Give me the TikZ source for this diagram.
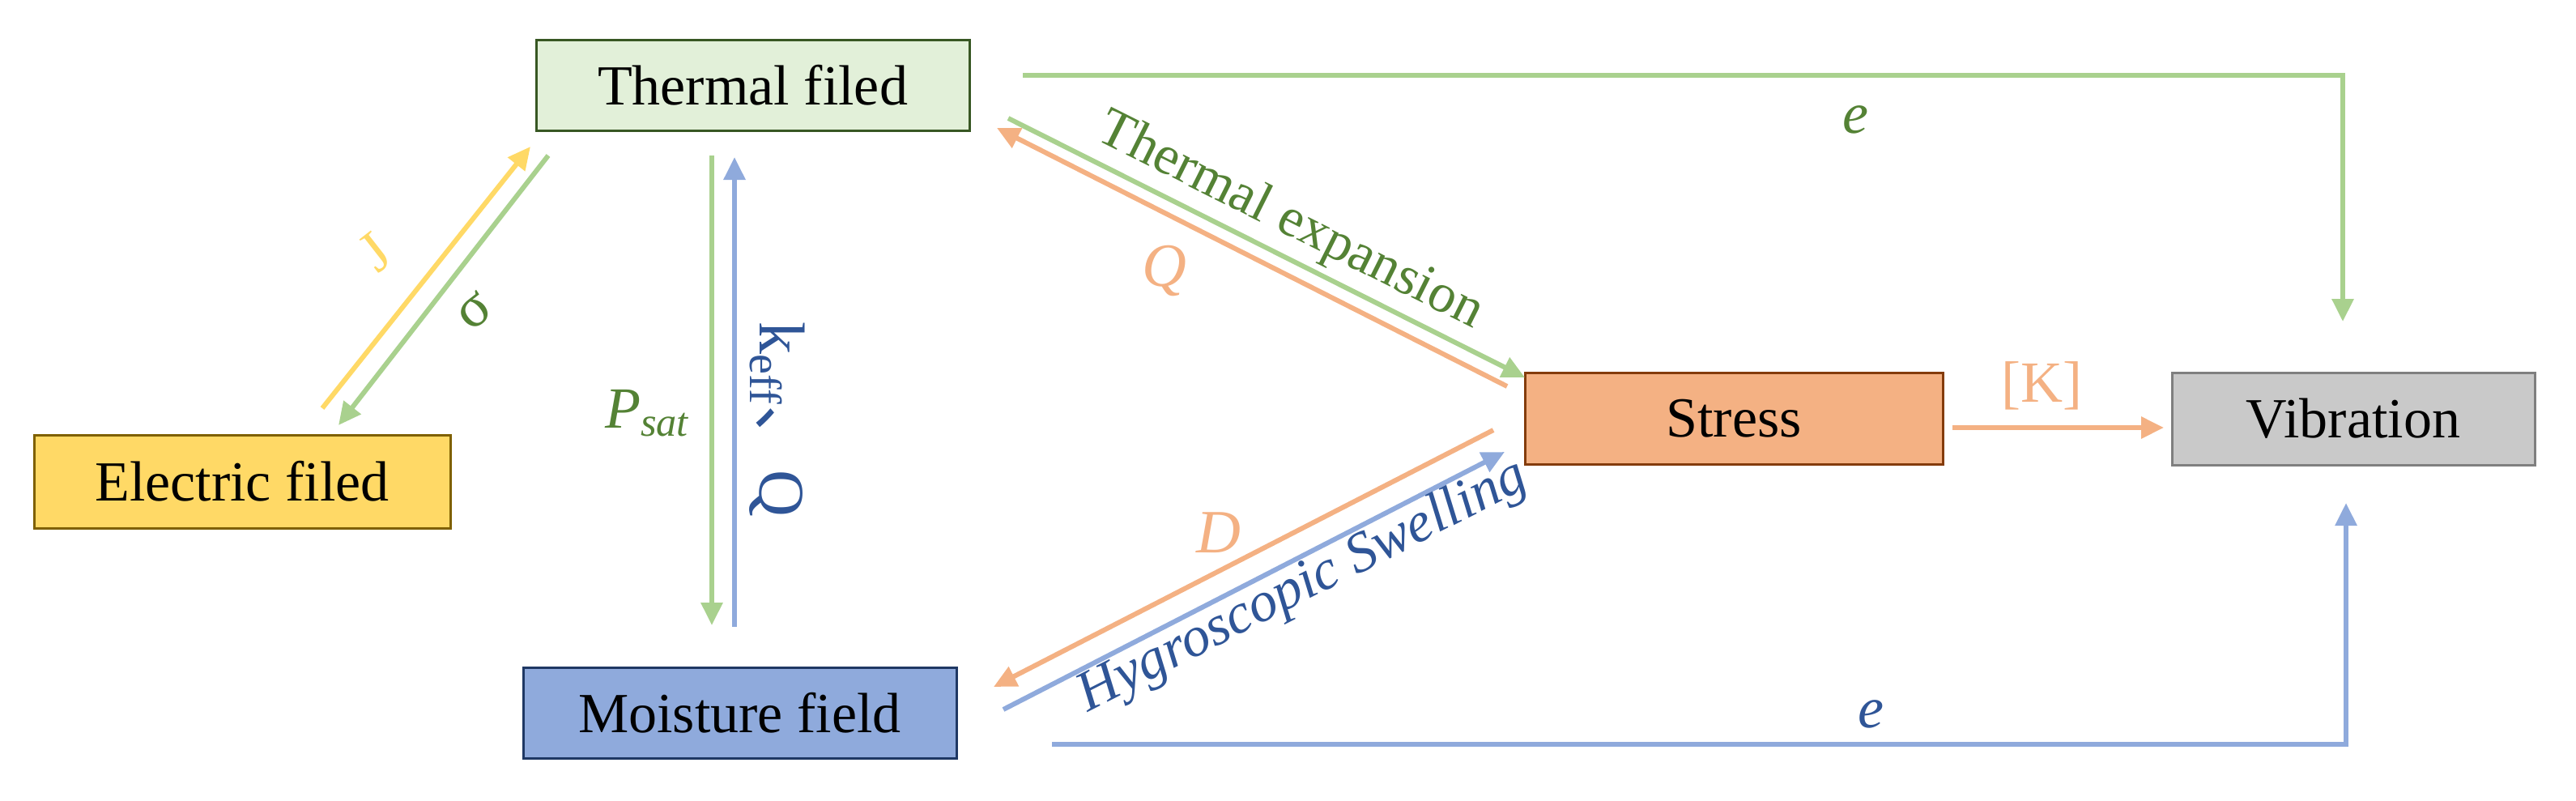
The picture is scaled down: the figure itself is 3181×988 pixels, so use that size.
\documentclass[tikz,border=0pt]{standalone}
\usepackage{fontspec}
\setmainfont{Liberation Serif}
\newfontfamily\cjk{Noto Sans CJK SC}
\usetikzlibrary{arrows.meta}

\definecolor{thermalFill}{RGB}{226,240,217}
\definecolor{thermalLine}{RGB}{56,87,35}
\definecolor{electricFill}{RGB}{255,217,102}
\definecolor{electricLine}{RGB}{127,96,0}
\definecolor{moistureFill}{RGB}{143,170,220}
\definecolor{moistureLine}{RGB}{31,56,100}
\definecolor{stressFill}{RGB}{244,177,131}
\definecolor{stressLine}{RGB}{132,60,12}
\definecolor{vibFill}{RGB}{201,201,201}
\definecolor{vibLine}{RGB}{127,127,127}
\definecolor{greenArrow}{RGB}{169,209,142}
\definecolor{greenText}{RGB}{84,130,53}
\definecolor{blueArrow}{RGB}{143,170,220}
\definecolor{blueText}{RGB}{47,85,151}
\definecolor{orangeArrow}{RGB}{244,177,131}
\definecolor{yellowArrow}{RGB}{255,217,102}

\tikzset{every picture/.style={line width=0.75pt}}
\tikzset{
	field/.style={draw, line width=0.75pt, inner sep=0pt, font=\fontsize{17.5}{21}\selectfont},
	flow/.style={line width=1.5pt, -{Triangle[length=7pt,width=6.5pt]}},
	lbl/.style={inner sep=0pt, font=\fontsize{18}{21}\selectfont}}

\begin{document}
\begin{tikzpicture}[x=0.25pt,y=0.25pt,yscale=-1,xscale=1]
	\useasboundingbox (0,0) rectangle (3181,988);

	%Shape: Rectangle [id:thermal]
	\node (thermal) [field, fill=thermalFill, draw=thermalLine, minimum width=133.75pt, minimum height=28pt] at (929.5,105) {Thermal filed};
	%Shape: Rectangle [id:electric]
	\node (electric) [field, fill=electricFill, draw=electricLine, minimum width=128.5pt, minimum height=28.75pt] at (299,594.5) {Electric filed};
	%Shape: Rectangle [id:moisture]
	\node (moisture) [field, fill=moistureFill, draw=moistureLine, minimum width=133.75pt, minimum height=28pt] at (913.5,880) {Moisture field};
	%Shape: Rectangle [id:stress]
	\node (stress) [field, fill=stressFill, draw=stressLine, minimum width=129pt, minimum height=28.25pt] at (2141,516.5) {Stress};
	%Shape: Rectangle [id:vibration]
	\node (vibration) [field, fill=vibFill, draw=vibLine, minimum width=112pt, minimum height=28.5pt] at (2906,517) {Vibration};

	%Arrow ends
	\coordinate (jFrom) at (398,504);
	\coordinate (jTo) at (655,181);
	\coordinate (sigFrom) at (677,192);
	\coordinate (sigTo) at (418,525);
	\coordinate (psatFrom) at (879,192);
	\coordinate (psatTo) at (879,772);
	\coordinate (keffFrom) at (907,774);
	\coordinate (keffTo) at (907,194);
	\coordinate (expFrom) at (1245,146);
	\coordinate (expTo) at (1883,466);
	\coordinate (qFrom) at (1861,477);
	\coordinate (qTo) at (1231,158);
	\coordinate (dFrom) at (1844,531);
	\coordinate (dTo) at (1227,848);
	\coordinate (hygFrom) at (1239,876);
	\coordinate (hygTo) at (1858,558);
	\coordinate (eTopFrom) at (1263,93);
	\coordinate (eTopTo) at (2893,397);
	\coordinate (eBotFrom) at (1299,919);
	\coordinate (eBotTo) at (2897,621);
	\coordinate (kFrom) at (2411,528);
	\coordinate (kTo) at (2672,528);

	%Straight Lines
	\draw [flow, yellowArrow] (jFrom) -- (jTo);
	\draw [flow, greenArrow] (sigFrom) -- (sigTo);
	\draw [flow, greenArrow] (psatFrom) -- (psatTo);
	\draw [flow, blueArrow] (keffFrom) -- (keffTo);
	\draw [flow, greenArrow] (expFrom) -- (expTo);
	\draw [flow, orangeArrow] (qFrom) -- (qTo);
	\draw [flow, orangeArrow] (dFrom) -- (dTo);
	\draw [flow, blueArrow] (hygFrom) -- (hygTo);
	\draw [flow, orangeArrow] (kFrom) -- (kTo);
	%Elbow Lines
	\draw [flow, greenArrow] (eTopFrom) -| (eTopTo);
	\draw [flow, blueArrow] (eBotFrom) -| (eBotTo);

	% Text Node
	\node (lblJ) [lbl, text=yellowArrow, rotate=38] at (463,312) {J};
	% Text Node
	\node (lblSig) [lbl, text=greenText, rotate=38] at (586,384) {σ};
	% Text Node
	\node (lblPsat) [lbl, text=greenText] at (800,510) {\textit{P}\textsubscript{\textit{sat}}};
	% Text Node
	\node (lblKeff) [lbl, text=blueText, rotate=-90, font=\fontsize{20}{24}\selectfont] at (960,518) {k\textsubscript{eff}{\cjk 、}Q};
	% Text Node
	\node (lblExp) [lbl, text=greenText, rotate=-26.6, font=\fontsize{17}{20}\selectfont] at (1593,274) {Thermal expansion};
	% Text Node
	\node (lblQ) [lbl, text=orangeArrow, font=\fontsize{19}{22}\selectfont] at (1438,334) {\textit{Q}};
	% Text Node
	\node (lblD) [lbl, text=orangeArrow, font=\fontsize{19}{22}\selectfont] at (1505,658) {\textit{D}};
	% Text Node
	\node (lblHyg) [lbl, text=blueText, rotate=27, font=\fontsize{17.5}{21}\selectfont] at (1609,725) {\textit{Hygroscopic Swelling}};
	% Text Node
	\node (lblEtop) [lbl, text=greenText] at (2291,148) {\textit{e}};
	% Text Node
	\node (lblEbot) [lbl, text=blueText] at (2310,882) {\textit{e}};
	% Text Node
	\node (lblK) [lbl, text=orangeArrow] at (2521,476) {[K]};

\end{tikzpicture}
\end{document}
